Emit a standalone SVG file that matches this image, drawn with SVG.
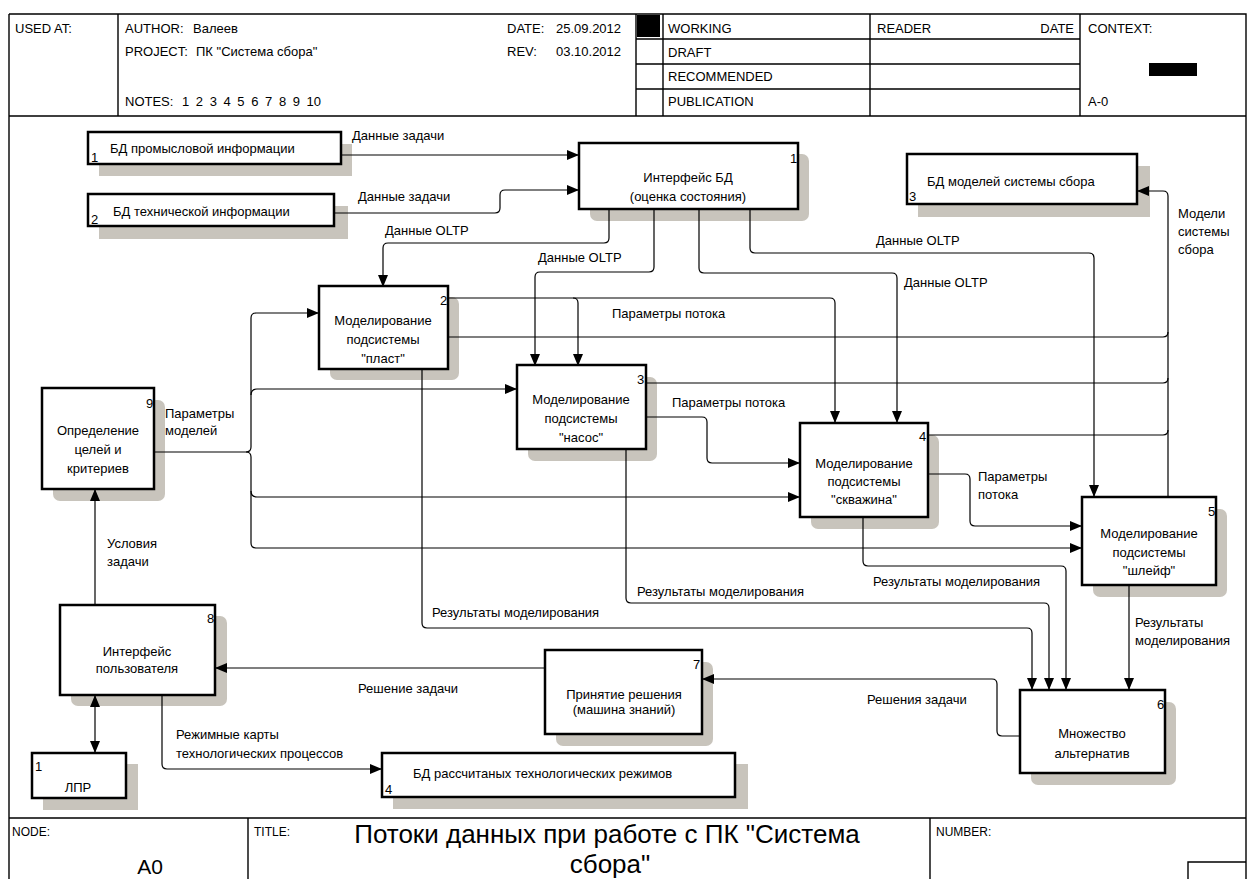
<svg xmlns="http://www.w3.org/2000/svg" width="1247" height="879" viewBox="0 0 1247 879">
<defs>
<style>
.box{fill:#fff;stroke:#000;stroke-width:2.5}
.sh{fill:#c8c4bc}
.ln{fill:none;stroke:#000;stroke-width:1.2}
.fr{fill:none;stroke:#000;stroke-width:1.4}
text{font-family:"Liberation Sans",Arial,sans-serif;font-size:13px;fill:#000}
.c{text-anchor:middle}
.hd{font-size:13px}
.ft{font-size:12px}
.tt{font-size:26px;text-anchor:middle}
</style>
<marker id="ah" viewBox="0 0 12 10" refX="12" refY="5" markerWidth="12" markerHeight="10" markerUnits="userSpaceOnUse" orient="auto-start-reverse"><path d="M0,0 L12,5 L0,10 z" fill="#000"/></marker>
</defs>
<rect width="1247" height="879" fill="#fff"/>

<g id="frame">
<path class="fr" d="M9,14 H1246 V879 M9,14 V879 M9,116 H1246 M9,818 H1246"/>
<path class="fr" d="M118,14 V116 M636,14 V116 M663,14 V116 M870,14 V116 M1080,14 V116 M636,39 H1080 M636,64 H1080 M636,89 H1080"/>
<rect x="637" y="15" width="23" height="22" fill="#000"/>
<rect x="1149" y="63" width="48" height="13" fill="#000"/>
<path class="fr" d="M248,818 V879 M930,818 V879 M1188,879 V862 H1246"/>
<text class="hd" x="15" y="33">USED AT:</text>
<text class="hd" x="125" y="33">AUTHOR:<tspan x="193">Валеев</tspan></text>
<text class="hd" x="125" y="56">PROJECT:<tspan x="196">ПК "Система сбора"</tspan></text>
<text class="hd" x="125" y="106">NOTES:<tspan x="182" word-spacing="3">1 2 3 4 5 6 7 8 9 10</tspan></text>
<text class="hd" x="507" y="33">DATE:<tspan x="556">25.09.2012</tspan></text>
<text class="hd" x="507" y="56">REV:<tspan x="556">03.10.2012</tspan></text>
<text class="hd" x="668" y="33">WORKING</text>
<text class="hd" x="668" y="57">DRAFT</text>
<text class="hd" x="668" y="81">RECOMMENDED</text>
<text class="hd" x="668" y="106">PUBLICATION</text>
<text class="hd" x="877" y="33">READER</text>
<text class="hd" x="1074" y="33" text-anchor="end">DATE</text>
<text class="hd" x="1088" y="33">CONTEXT:</text>
<text class="hd" x="1088" y="106">A-0</text>
<text class="ft" x="12" y="836">NODE:</text>
<text class="c" x="150" y="874" style="font-size:21px">A0</text>
<text class="ft" x="254" y="836">TITLE:</text>
<text class="tt" x="607" y="843">Потоки данных при работе с ПК "Система</text>
<text class="tt" x="610" y="873">сбора"</text>
<text class="ft" x="936" y="836">NUMBER:</text>
</g>

<g id="db1">
<rect class="sh" x="99" y="144" width="253" height="32"/>
<rect class="box" x="88" y="132" width="253" height="32"/>
<text x="110" y="153">БД  промысловой информации</text>
<text x="91" y="162">1</text>
</g>
<g id="db2">
<rect class="sh" x="99" y="206" width="249" height="33"/>
<rect class="box" x="88" y="194" width="246" height="32"/>
<text x="113" y="216">БД технической информации</text>
<text x="91" y="224">2</text>
</g>
<g id="db3">
<rect class="sh" x="918" y="166" width="232" height="51"/>
<rect class="box" x="907" y="154" width="230" height="50"/>
<text x="927" y="186">БД моделей системы сбора</text>
<text x="909" y="201">3</text>
</g>
<g id="db4">
<rect class="sh" x="393" y="764" width="355" height="45"/>
<rect class="box" x="382" y="753" width="353" height="44"/>
<text x="413" y="778">БД рассчитаных технологических режимов</text>
<text x="385" y="794">4</text>
</g>
<g id="ext1">
<rect class="sh" x="43" y="764" width="95" height="46"/>
<rect class="box" x="32" y="753" width="94" height="45"/>
<text x="35" y="771">1</text>
<text class="c" x="78" y="792">ЛПР</text>
</g>

<g id="a1">
<rect class="sh" x="590" y="154" width="219" height="67" rx="7"/>
<rect class="box" x="579" y="143" width="219" height="66"/>
<text x="790" y="163">1</text>
<text class="c" x="688" y="182">Интерфейс БД</text>
<text class="c" x="688" y="201">(оценка состояния)</text>
</g>
<g id="a2">
<rect class="sh" x="330" y="297" width="129" height="83" rx="7"/>
<rect class="box" x="319" y="286" width="129" height="83"/>
<text x="440" y="305">2</text>
<text class="c" x="383" y="325">Моделирование</text>
<text class="c" x="383" y="344">подсистемы</text>
<text class="c" x="383" y="363">"пласт"</text>
</g>
<g id="a3">
<rect class="sh" x="528" y="377" width="129" height="84" rx="7"/>
<rect class="box" x="517" y="365" width="129" height="84"/>
<text x="637" y="384">3</text>
<text class="c" x="581" y="404">Моделирование</text>
<text class="c" x="581" y="423">подсистемы</text>
<text class="c" x="581" y="442">"насос"</text>
</g>
<g id="a4">
<rect class="sh" x="811" y="435" width="128" height="94" rx="7"/>
<rect class="box" x="800" y="423" width="128" height="94"/>
<text x="919" y="441">4</text>
<text class="c" x="864" y="468">Моделирование</text>
<text class="c" x="864" y="486">подсистемы</text>
<text class="c" x="864" y="504">"скважина"</text>
</g>
<g id="a5">
<rect class="sh" x="1093" y="509" width="134" height="88" rx="7"/>
<rect class="box" x="1082" y="497" width="134" height="88"/>
<text x="1208" y="516">5</text>
<text class="c" x="1149" y="538">Моделирование</text>
<text class="c" x="1149" y="557">подсистемы</text>
<text class="c" x="1149" y="575">"шлейф"</text>
</g>
<g id="a6">
<rect class="sh" x="1031" y="702" width="145" height="83" rx="7"/>
<rect class="box" x="1020" y="690" width="145" height="83"/>
<text x="1157" y="709">6</text>
<text class="c" x="1092" y="738">Множество</text>
<text class="c" x="1092" y="758">альтернатив</text>
</g>
<g id="a7">
<rect class="sh" x="556" y="662" width="157" height="84" rx="7"/>
<rect class="box" x="545" y="650" width="157" height="84"/>
<text x="693" y="669">7</text>
<text class="c" x="624" y="699">Принятие решения</text>
<text class="c" x="624" y="714">(машина знаний)</text>
</g>
<g id="a8">
<rect class="sh" x="71" y="616" width="156" height="90" rx="7"/>
<rect class="box" x="60" y="605" width="155" height="90"/>
<text x="207" y="623">8</text>
<text class="c" x="137" y="656">Интерфейс</text>
<text class="c" x="137" y="673">пользователя</text>
</g>
<g id="a9">
<rect class="sh" x="53" y="400" width="112" height="101" rx="7"/>
<rect class="box" x="42" y="388" width="112" height="101"/>
<text x="146" y="408">9</text>
<text class="c" x="98" y="435">Определение</text>
<text class="c" x="98" y="454">целей и</text>
<text class="c" x="98" y="473">критериев</text>
</g>

<g id="connectors">
<path class="ln" marker-end="url(#ah)" d="M341,155 H579"/>
<path class="ln" marker-end="url(#ah)" d="M334,213 H495 q5,0 5,-5 V195 q0,-5 5,-5 H579"/>
<path class="ln" marker-end="url(#ah)" d="M609,209 V238 q0,5 -5,5 H388 q-5,0 -5,5 V287"/>
<path class="ln" marker-end="url(#ah)" d="M654,209 V267 q0,5 -5,5 H540 q-5,0 -5,5 V366"/>
<path class="ln" marker-end="url(#ah)" d="M699,209 V268 q0,5 5,5 H892 q5,0 5,5 V423"/>
<path class="ln" marker-end="url(#ah)" d="M750,209 V248 q0,5 5,5 H1089 q5,0 5,5 V497"/>
<path class="ln" marker-end="url(#ah)" d="M448,298 H830 q5,0 5,5 V423"/>
<path class="ln" marker-end="url(#ah)" d="M573,298 q5,0 5,5 V366"/>
<path class="ln" d="M448,337 H1163 q5,0 5,-5"/>
<path class="ln" d="M646,383 H1163 q5,0 5,-5"/>
<path class="ln" d="M928,435 H1163 q5,0 5,-5"/>
<path class="ln" marker-end="url(#ah)" d="M1168,497 V196 q0,-5 -5,-5 H1137"/>
<path class="ln" marker-end="url(#ah)" d="M646,417 H702 q5,0 5,5 V458 q0,5 5,5 H800"/>
<path class="ln" marker-end="url(#ah)" d="M928,474 H965 q5,0 5,5 V521 q0,5 5,5 H1082"/>
<path class="ln" marker-end="url(#ah)" d="M154,452 H246 q5,0 5,-5 V318 q0,-5 5,-5 H319"/>
<path class="ln" marker-end="url(#ah)" d="M246,452 q5,0 5,5 V543 q0,5 5,5 H1082"/>
<path class="ln" marker-end="url(#ah)" d="M251,395 q0,-6 6,-6 H517"/>
<path class="ln" marker-end="url(#ah)" d="M251,491 q0,6 6,6 H800"/>
<path class="ln" marker-end="url(#ah)" d="M422,369 V623 q0,5 5,5 H1027 q5,0 5,5 V690"/>
<path class="ln" marker-end="url(#ah)" d="M626,449 V598 q0,5 5,5 H1044 q5,0 5,5 V690"/>
<path class="ln" marker-end="url(#ah)" d="M863,517 V561 q0,5 5,5 H1061 q5,0 5,5 V690"/>
<path class="ln" marker-end="url(#ah)" d="M1129,585 V690"/>
<path class="ln" marker-end="url(#ah)" d="M1020,736 H1002 q-5,0 -5,-5 V684 q0,-5 -5,-5 H702"/>
<path class="ln" marker-end="url(#ah)" d="M545,668 H215"/>
<path class="ln" marker-end="url(#ah)" d="M95,605 V489"/>
<path class="ln" marker-start="url(#ah)" marker-end="url(#ah)" d="M95,695 V753"/>
<path class="ln" marker-end="url(#ah)" d="M162,695 V764 q0,5 5,5 H382"/>

<text x="352" y="140">Данные задачи</text>
<text x="358" y="201">Данные задачи</text>
<text x="385" y="235">Данные OLTP</text>
<text x="538" y="262">Данные OLTP</text>
<text x="876" y="245">Данные OLTP</text>
<text x="904" y="287">Данные OLTP</text>
<text x="1178" y="218">Модели</text>
<text x="1178" y="236">системы</text>
<text x="1178" y="254">сбора</text>
<text x="612" y="318">Параметры потока</text>
<text x="672" y="407">Параметры потока</text>
<text x="978" y="481">Параметры</text>
<text x="978" y="499">потока</text>
<text x="165" y="418">Параметры</text>
<text x="165" y="435">моделей</text>
<text x="107" y="548">Условия</text>
<text x="107" y="566">задачи</text>
<text x="432" y="617">Результаты моделирования</text>
<text x="637" y="596">Результаты моделирования</text>
<text x="873" y="586">Результаты моделирования</text>
<text x="1135" y="627">Результаты</text>
<text x="1135" y="645">моделирования</text>
<text x="358" y="693">Решение задачи</text>
<text x="867" y="704">Решения задачи</text>
<text x="176" y="739">Режимные карты</text>
<text x="176" y="758">технологических процессов</text>
</g>
</svg>
